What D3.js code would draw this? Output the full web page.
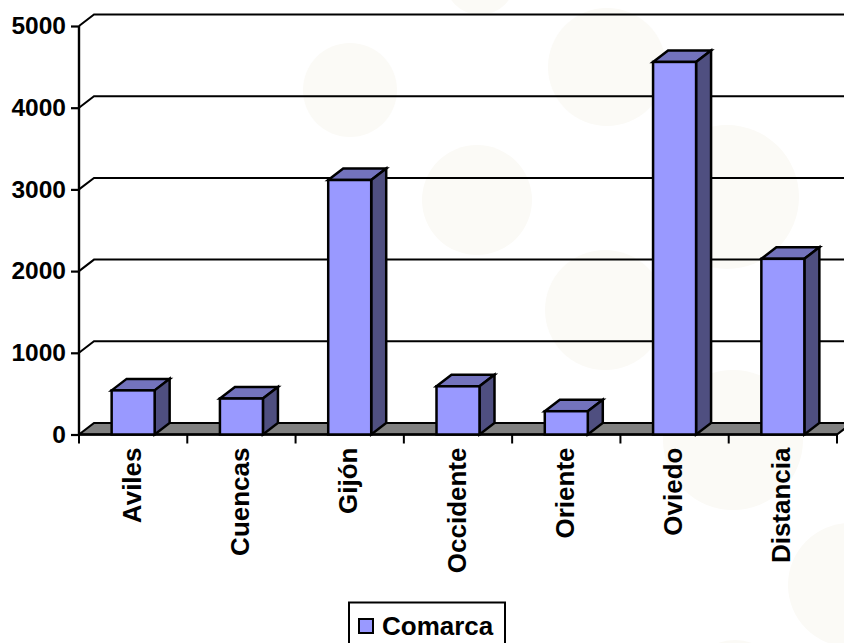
<!DOCTYPE html>
<html><head><meta charset="utf-8">
<script src="https://cdn.jsdelivr.net/npm/d3@7/dist/d3.min.js"></script>
<style>html,body{margin:0;padding:0;background:#fff;overflow:hidden}svg{display:block}text{font-family:"Liberation Sans",Arial,sans-serif;font-weight:bold;fill:#000}</style>
</head><body><svg id="c" width="844" height="643"></svg>
<script>
const categories=["Aviles","Cuencas","Gijón","Occidente","Oriente","Oviedo","Distancia"];
const values=[540,440,3115,590,285,4560,2150];
const yTicks=[0,1000,2000,3000,4000,5000];
const seriesName="Comarca";
const decoX=[350,477,607,605,727,733,850,480,735];
const decoY=[90,200,67,310,197,440,585,-20,690];
const decoR=[47,55,59,60,72,70,62,35,50];

const svg=d3.select("#c");
const x=d3.scaleBand().domain(categories).range([79,837]).paddingInner(0).paddingOuter(0);
const y=d3.scaleLinear().domain([0,5000]).range([434.5,26]);
const dx=15,dy=-11.5,barW=43;
const poly=p=>p.map(a=>a.join(",")).join(" ");

svg.selectAll("circle.deco").data(decoX).join("circle").attr("class","deco")
 .attr("cx",d=>d).attr("cy",(d,i)=>decoY[i]).attr("r",(d,i)=>decoR[i]).attr("fill","#fbfaf6");

const x0=x.range()[0],x1=x.range()[1];
svg.append("polygon").attr("points",poly([[x0,y(0)],[x0+dx,y(0)+dy],[x1+dx,y(0)+dy],[x1,y(0)]]))
 .attr("fill","#808080").attr("stroke","#000").attr("stroke-width",2.2);
yTicks.filter(t=>t>0).forEach(t=>{
 svg.append("path").attr("d",`M${x0},${y(t)}L${x0+dx},${y(t)+dy}L${x1+dx},${y(t)+dy}`)
  .attr("fill","none").attr("stroke","#000").attr("stroke-width",2);
});
const ya=svg.append("g").attr("transform",`translate(${x0},0)`).call(d3.axisLeft(y).tickValues(yTicks).tickSize(8).tickPadding(5).tickFormat(d3.format("d")));
ya.select(".domain").attr("stroke","#000").attr("stroke-width",2.4).attr("d",`M0,${y(5000)}V${y(0)}`);
ya.selectAll("line").attr("stroke-width",2.2);
ya.selectAll("text").style("font-size","24.5px").style("font-family",'"Liberation Sans"').style("font-weight","bold");

const xa=svg.append("g");
xa.append("line").attr("x1",x0-1).attr("x2",x1).attr("y1",y(0)).attr("y2",y(0)).attr("stroke","#000").attr("stroke-width",2.4);
[...categories.map(c=>x(c)),x1].forEach(p=>xa.append("line").attr("x1",p).attr("x2",p).attr("y1",y(0)).attr("y2",y(0)+9).attr("stroke","#000").attr("stroke-width",2));

const g=svg.selectAll("g.bar").data(categories).join("g").attr("class","bar");
g.each(function(c,i){
 const s=d3.select(this),l=x(c)+x.bandwidth()/2-barW/2,r=l+barW,t=y(values[i]),b=y(0);
 const st=e=>e.attr("stroke","#000").attr("stroke-width",2.5).attr("stroke-linejoin","miter");
 st(s.append("polygon").attr("points",poly([[l,t],[l+dx,t+dy],[r+dx,t+dy],[r,t]])).attr("fill","#7373bd"));
 st(s.append("polygon").attr("points",poly([[r,t],[r+dx,t+dy],[r+dx,b+dy],[r,b]])).attr("fill","#4f4f80"));
 st(s.append("rect").attr("x",l).attr("y",t).attr("width",barW).attr("height",b-t).attr("fill","#9999ff"));
 s.append("text").attr("transform",`translate(${x(c)+x.bandwidth()/2+7.5},${b+13}) rotate(-90)`)
  .attr("text-anchor","end").style("font-size","26px").text(c);
});

svg.append("rect").attr("x",349).attr("y",602.5).attr("width",156).attr("height",50).attr("fill","#fff").attr("stroke","#000").attr("stroke-width",2);
svg.append("rect").attr("x",359).attr("y",619).attr("width",14).attr("height",14).attr("fill","#9999ff").attr("stroke","#000").attr("stroke-width",2);
svg.append("text").attr("x",382).attr("y",635).style("font-size","26px").text(seriesName);
</script></body></html>
